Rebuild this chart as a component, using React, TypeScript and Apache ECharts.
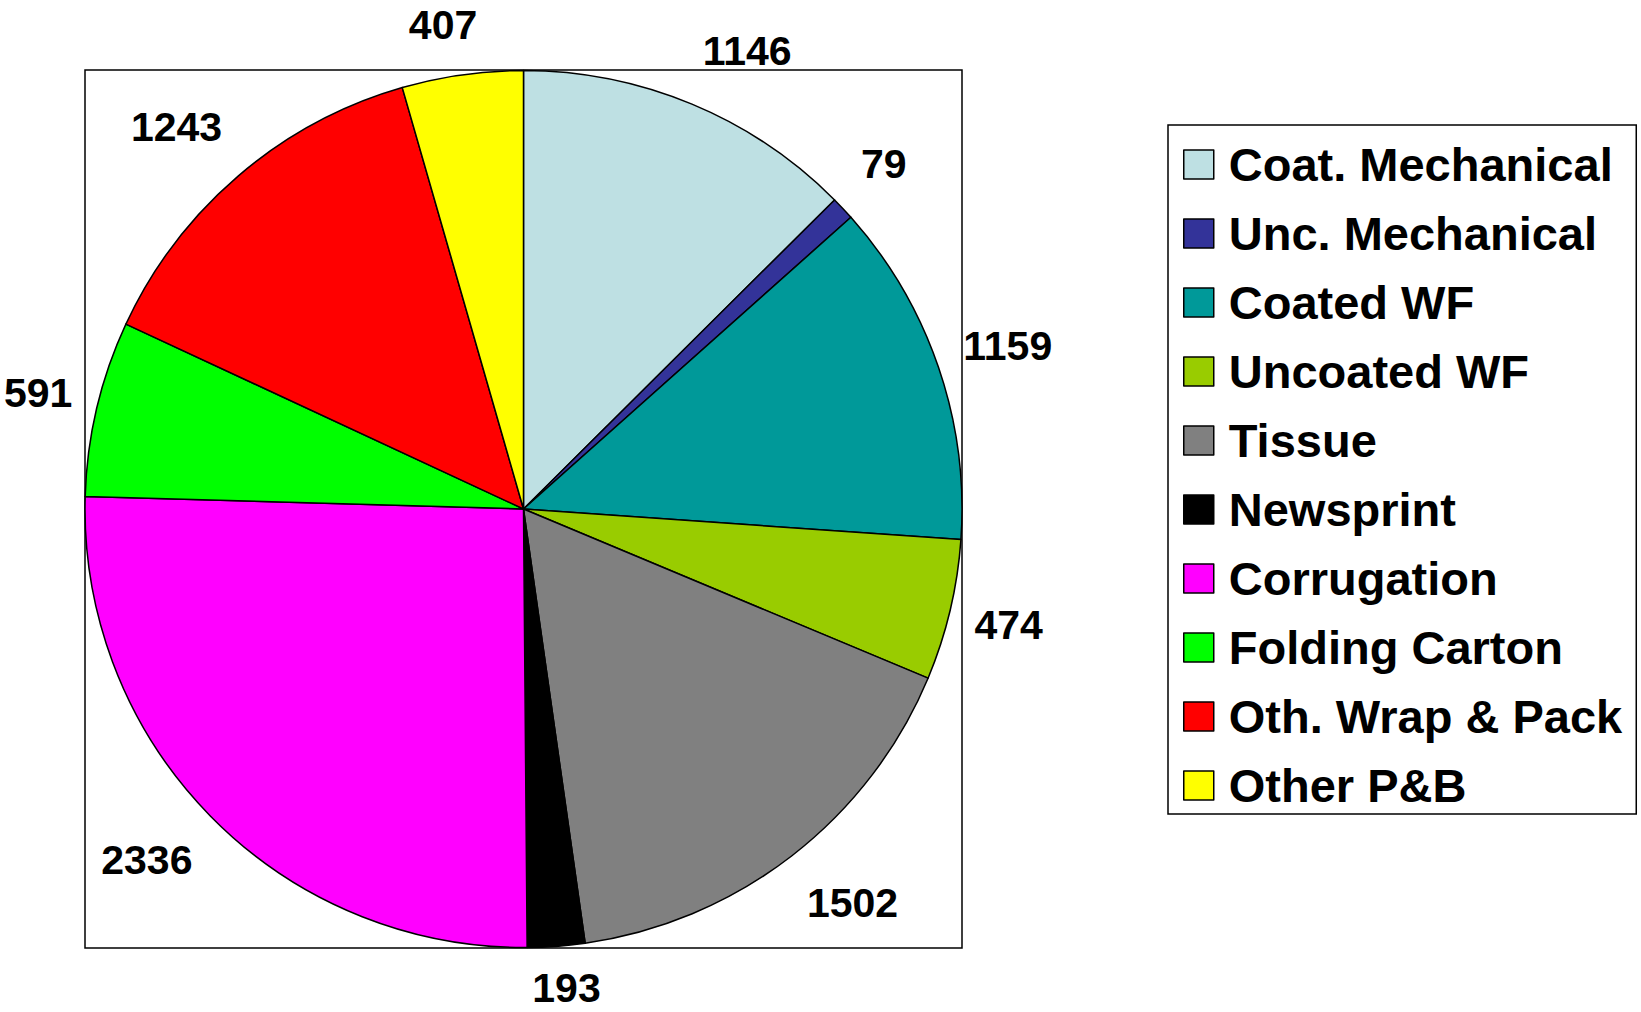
import React, { useEffect, useRef } from "react";
import * as echarts from "echarts";

const categories = [
  "Coat. Mechanical",
  "Unc. Mechanical",
  "Coated WF",
  "Uncoated WF",
  "Tissue",
  "Newsprint",
  "Corrugation",
  "Folding Carton",
  "Oth. Wrap & Pack",
  "Other P&B",
];
const values = [1146, 79, 1159, 474, 1502, 193, 2336, 591, 1243, 407];
const colors = [
  "#BEE0E3",
  "#333399",
  "#009999",
  "#99CC00",
  "#808080",
  "#000000",
  "#FF00FF",
  "#00FF00",
  "#FF0000",
  "#FFFF00",
];

const FONT = "'Liberation Sans', Arial, sans-serif";
const W = 1641;
const H = 1012;
const CX = 523.5;
const CY = 509;
const R = 438.5;
const LABEL_SIZE = 41;
const LABEL_ANCHOR = 460.5; // distance of label anchor from pie centre
const LABEL_SHIFT_UP = 30;
const LABEL_SHIFT_DOWN = 27;
const TOP_MARGIN = 28;
const BOTTOM_MARGIN = 27;

export default function App() {
  const ref = useRef<HTMLDivElement>(null);
  useEffect(() => {
    document.body.style.margin = "0";
    document.body.style.overflow = "hidden";
    const chart = echarts.init(ref.current!, null, { renderer: "svg" });
    const total = values.reduce((a, b) => a + b, 0);
    let cum = 0;
    const data = values.map((v, i) => {
      const mid = ((cum + v / 2) / total) * Math.PI * 2;
      cum += v;
      const ux = Math.sin(mid);
      const uy = -Math.cos(mid);
      const text = String(v);
      const halfW = (text.length * 0.556 * LABEL_SIZE) / 2;
      const sx = Math.max(-1, Math.min(1, ux * 3.3));
      const cap = uy > 0 ? LABEL_SHIFT_DOWN : LABEL_SHIFT_UP;
      const sy = Math.sign(uy) * Math.min(cap, 40 * Math.abs(uy));
      const d = LABEL_ANCHOR - R / 2;
      const insideY = CY + uy * (R / 2);
      let targetY = insideY + uy * d + sy;
      targetY = Math.max(TOP_MARGIN, Math.min(H - BOTTOM_MARGIN, targetY));
      return {
        name: categories[i],
        value: v,
        itemStyle: { color: colors[i] },
        label: { offset: [ux * d + halfW * sx, targetY - insideY] },
      };
    });
    chart.setOption({
      animation: false,
      backgroundColor: "#ffffff",
      graphic: [
        {
          type: "rect",
          z: 0,
          shape: { x: 85, y: 70, width: 877, height: 878 },
          style: { fill: "none", stroke: "#000", lineWidth: 1.5 },
        },
      ],
      legend: {
        orient: "vertical",
        left: 1168,
        top: 125,
        data: categories,
        icon: "rect",
        itemWidth: 30,
        itemHeight: 29,
        itemGap: 22,
        padding: [16, 14, 5, 15],
        borderColor: "#000",
        borderWidth: 1.5,
        backgroundColor: "#fff",
        selectedMode: false,
        itemStyle: { borderColor: "#000", borderWidth: 1.5 },
        textStyle: {
          fontFamily: FONT,
          fontSize: 47,
          fontWeight: "bold",
          color: "#000",
          lineHeight: 47,
          padding: [0, 0, 0, 10],
        },
      },
      series: [
        {
          type: "pie",
          center: [CX, CY],
          radius: [0, R],
          startAngle: 90,
          clockwise: true,
          silent: true,
          itemStyle: { borderColor: "#000", borderWidth: 1.5 },
          label: {
            show: true,
            position: "inside",
            formatter: "{c}",
            color: "#000",
            fontFamily: FONT,
            fontSize: LABEL_SIZE,
            fontWeight: "bold",
            lineHeight: 30,
            textBorderWidth: 0,
          },
          labelLine: { show: false },
          data,
        },
      ],
    });
    return () => chart.dispose();
  }, []);
  return <div ref={ref} style={{ width: W, height: H }} />;
}
